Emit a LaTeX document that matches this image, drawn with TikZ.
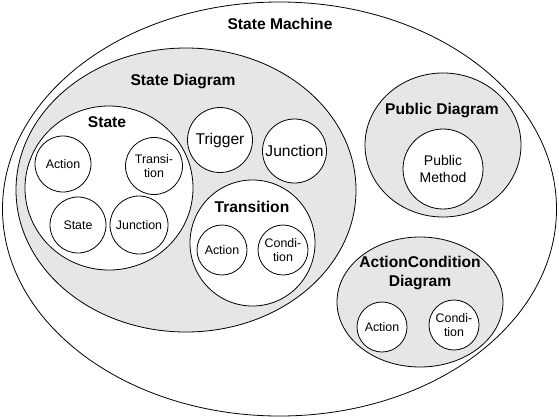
\documentclass[tikz,border=0pt]{standalone}
\usepackage{fontspec}
\setmainfont{Liberation Sans}
\usetikzlibrary{shapes.geometric}
\definecolor{diagfill}{RGB}{230,230,230}
\tikzset{
  cont/.style={ellipse, draw=black, line width=0.8pt, inner sep=0pt},
  wcont/.style={cont, fill=white},
  gcont/.style={cont, fill=diagfill},
  leaf/.style={circle, draw=black, line width=0.8pt, fill=white, inner sep=0pt, align=center, font=\fontsize{12.4}{14.3}\selectfont},
  bigleaf/.style={leaf, font=\fontsize{15.6}{18}\selectfont},
  pmleaf/.style={leaf, font=\fontsize{14}{16.7}\selectfont},
  title/.style={font=\bfseries\fontsize{15.6}{19}\selectfont, align=center, inner sep=0pt},
}
\begin{document}
\begin{tikzpicture}[x=1pt,y=-1pt]
\useasboundingbox (0,0) rectangle (559,418);
% State Machine
\node[wcont, minimum width=554pt, minimum height=414pt] (sm) at (279.5,209) {};
\node[title, anchor=base] (smt) at (280,29) {State Machine};
% State Diagram
\node[gcont, minimum width=340pt, minimum height=284pt] (sd) at (186,190) {};
\node[title, anchor=base] (sdt) at (183,85) {State Diagram};
% State
\node[wcont, minimum width=168pt, minimum height=164pt] (st) at (109,188) {};
\node[title, anchor=base] (stt) at (107,127) {State};
\node[leaf, minimum size=56pt] (sa) at (63,164) {Action};
\node[leaf, minimum size=57pt] (str) at (154,166) {Transi-\\tion};
\node[leaf, minimum size=56pt] (ss) at (78,225) {State};
\node[leaf, minimum size=58pt] (sj) at (139,225) {Junction};
% Trigger, Junction
\node[bigleaf, minimum size=65pt] (trig) at (220,140) {Trigger};
\node[bigleaf, minimum size=64pt] (junc) at (294.5,151) {Junction};
% Transition
\node[wcont, minimum width=125pt, minimum height=126pt] (tr) at (252.5,243) {};
\node[title, anchor=base] (trt) at (252,212) {Transition};
\node[leaf, minimum size=50pt] (ta) at (222,250) {Action};
\node[leaf, minimum size=50pt] (tc) at (283,250) {Condi-\\tion};
% Public Diagram
\node[gcont, minimum width=156pt, minimum height=144pt] (pd) at (443,145) {};
\node[title, anchor=base] (pdt) at (442,114) {Public Diagram};
\node[pmleaf, minimum size=80pt] (pm) at (443,169) {Public\\Method};
% ActionCondition Diagram
\node[gcont, minimum width=166pt, minimum height=130pt] (ac) at (420,302) {};
\node[title] (act) at (420,273) {ActionCondition\\Diagram};
\node[leaf, minimum size=50pt] (aa) at (382,327) {Action};
\node[leaf, minimum size=50pt] (acn) at (454,325) {Condi-\\tion};
\end{tikzpicture}
\end{document}
